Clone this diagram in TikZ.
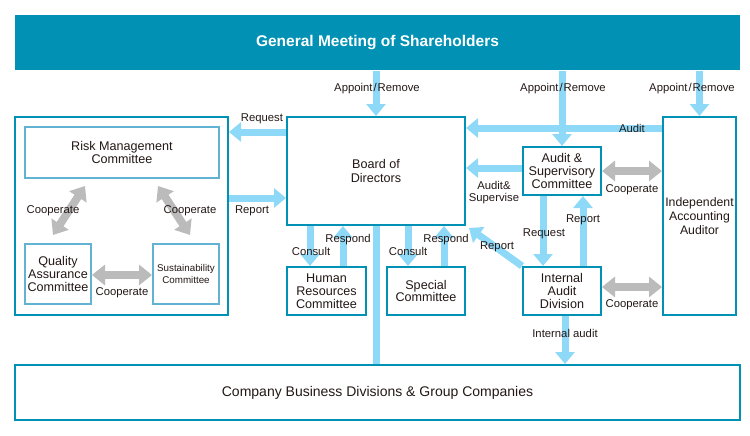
\documentclass[tikz,border=0pt]{standalone}
\usepackage{fontspec}
\setmainfont{Liberation Sans}
\usetikzlibrary{arrows.meta,backgrounds}
\definecolor{teal1}{HTML}{0091B5}
\definecolor{lteal}{HTML}{62B3D3}
\definecolor{lblue}{HTML}{8ED8F8}
\definecolor{gr}{HTML}{BBBBBB}
\definecolor{txt}{HTML}{231815}
\begin{document}
\begin{tikzpicture}[x=1pt,y=-1pt,
  box/.style={draw=teal1,line width=2pt,fill=white,inner sep=0pt,align=center,text=txt,font=\fontsize{12.6}{12.8}\selectfont},
  ibox/.style={box,draw=lteal},
  lbl/.style={text=txt,font=\fontsize{11.3}{12}\selectfont,inner sep=0pt,align=center},
  barrow/.style={draw=lblue,line width=7pt,-{Triangle[length=12pt,width=19pt]}},
  bline/.style={draw=lblue,line width=7pt},
  garrow/.style={draw=gr,line width=8pt,{Triangle[length=13pt,width=20pt]}-{Triangle[length=13pt,width=20pt]}},
]
\useasboundingbox (0,0) rectangle (750,436);

% nodes
\node[box,draw=none,fill=teal1,text=white,minimum width=725pt,minimum height=55pt,
      font=\fontsize{15.5}{18}\selectfont\bfseries] (gm) at (377.5,42.5) {General Meeting of Shareholders};
\node[box,fill=none,minimum width=213pt,minimum height=198pt] (outer) at (121.5,216) {};
\node[ibox,minimum width=194pt,minimum height=51pt] (risk) at (122,152.5) {Risk Management\\Committee};
\node[ibox,minimum width=66pt,minimum height=60pt] (qa) at (58,274) {Quality\\Assurance\\Committee};
\node[ibox,minimum width=66pt,minimum height=60pt,font=\fontsize{9.8}{12}\selectfont] (sus) at (186,274) {Sustainability\\Committee};
\node[box,minimum width=178pt,minimum height=108pt,font=\fontsize{12.6}{14}\selectfont] (board) at (376,171) {Board of\\Directors};
\node[box,minimum width=79pt,minimum height=48pt] (hr) at (326.5,291) {Human\\Resources\\Committee};
\node[box,minimum width=78pt,minimum height=48pt] (sp) at (426,291) {Special\\Committee};
\node[box,minimum width=78pt,minimum height=48pt] (as) at (562,171) {Audit \&\\Supervisory\\Committee};
\node[box,minimum width=78pt,minimum height=48pt] (iad) at (562,291) {Internal\\Audit\\Division};
\node[box,minimum width=73pt,minimum height=198pt,font=\fontsize{12.3}{13.7}\selectfont] (iaa) at (699.5,216) {Independent\\Accounting\\Auditor};
\node[box,minimum width=725pt,minimum height=55pt,font=\fontsize{14}{16}\selectfont] (comp) at (377.5,392.5) {Company Business Divisions \& Group Companies};

% connector end points
\coordinate (rq) at (board.west |- 0,132);
\coordinate (rp) at (board.west |- 0,198);
\coordinate (au) at (iaa.west |- 0,128);
\coordinate (asw) at (as.west |- 0,168);
\coordinate (c1) at (hr.north -| 310,0);
\coordinate (r1) at (hr.north -| 343,0);
\coordinate (c2) at (sp.north -| 408,0);
\coordinate (r2) at (sp.north -| 444,0);
\coordinate (rqa) at (as.south -| 543,0);
\coordinate (rpa) at (iad.north -| 583,0);
\coordinate (ia) at (iad.south -| 565,0);
\coordinate (ie) at (iad.east |- 0,287);
\coordinate (qe) at (qa.east |- 0,275);
\coordinate (g1) at (53,235);
\coordinate (g2) at (85,186);
\coordinate (g3) at (158,186);
\coordinate (g4) at (190,235);

\begin{pgfonlayer}{background}
\draw[barrow] (gm.south -| board.north) -- (board.north);
\draw[barrow] (gm.south -| as.north) -- (as.north);
\draw[barrow] (gm.south -| iaa.north) -- (iaa.north);
\draw[barrow] (rq) -- (rq -| outer.east);
\draw[barrow] (rp -| outer.east) -- (rp);
\draw[barrow] (au) -- (au -| board.east);
\draw[barrow] (asw) -- (asw -| board.east);
\draw[barrow] (c1 |- board.south) -- (c1);
\draw[barrow] (r1) -- (r1 |- board.south);
\draw[barrow] (c2 |- board.south) -- (c2);
\draw[barrow] (r2) -- (r2 |- board.south);
\draw[barrow] (rqa) -- (rqa |- iad.north);
\draw[barrow] (rpa) -- (rpa |- as.south);
\draw[barrow] (iad.north west) -- ([shift={(3pt,-2pt)}]board.south east);
\draw[barrow] (ia) -- (ia |- comp.north);
\draw[bline] (board.south) -- (board.south |- comp.north);
\end{pgfonlayer}

\draw[garrow] (as.east) -- (as.east -| iaa.west);
\draw[garrow] (ie) -- (ie -| iaa.west);
\draw[garrow] (qe) -- (qe -| sus.west);
\draw[garrow] (g1) -- (g2);
\draw[garrow] (g3) -- (g4);

% labels
\node[lbl] (l1) at (377,89) {Appoint\kern1pt/\kern1pt Remove};
\node[lbl] (l2) at (563,89) {Appoint\kern1pt/\kern1pt Remove};
\node[lbl] (l3) at (692,89) {Appoint\kern1pt/\kern1pt Remove};
\node[lbl] (l4) at (262,119) {Request};
\node[lbl] (l5) at (252,211) {Report};
\node[lbl] (l6) at (632,128) {Audit};
\node[lbl] (l7) at (494,193) {Audit\&\\Supervise};
\node[lbl] (l8) at (632,190) {Cooperate};
\node[lbl] (l9) at (632,305) {Cooperate};
\node[lbl] (l10) at (544,234) {Request};
\node[lbl] (l11) at (583,220) {Report};
\node[lbl] (l12) at (497,247) {Report};
\node[lbl] (l13) at (311,251) {Consult};
\node[lbl] (l14) at (348,240) {Respond};
\node[lbl] (l15) at (408,251) {Consult};
\node[lbl] (l16) at (446,240) {Respond};
\node[lbl] (l17) at (565,333) {Internal audit};
\node[lbl] (l18) at (53,211) {Cooperate};
\node[lbl] (l19) at (190,211) {Cooperate};
\node[lbl] (l20) at (122,293) {Cooperate};
\end{tikzpicture}
\end{document}
